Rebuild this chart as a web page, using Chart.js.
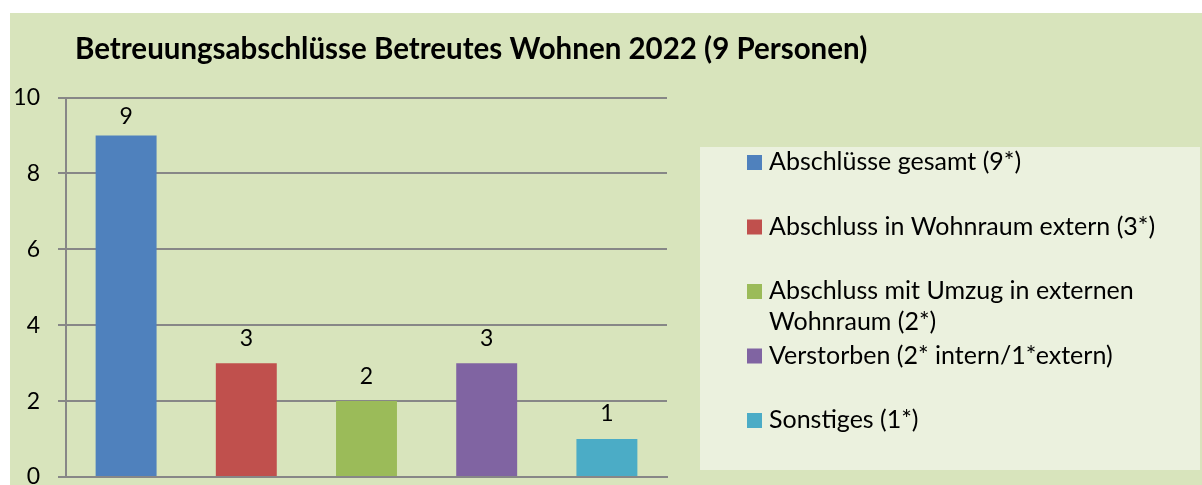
<!DOCTYPE html>
<html><head><meta charset="utf-8">
<script src="https://cdn.jsdelivr.net/npm/chart.js@4"></script>
<style>
html,body{margin:0;padding:0;background:#fff;width:1202px;height:485px;overflow:hidden}
#wrap{position:absolute;left:10px;top:13px;width:1192px;height:472px;background:#d8e4bc}
canvas{display:block}
</style></head><body><div id="wrap"><canvas id="c" width="1192" height="472"></canvas></div>
<script>
const chartTitle = "Betreuungsabschlüsse Betreutes Wohnen 2022 (9 Personen)";
const categories = [
  ["Abschlüsse gesamt (9*)"],
  ["Abschluss in Wohnraum extern (3*)"],
  ["Abschluss mit Umzug in externen", "Wohnraum (2*)"],
  ["Verstorben (2* intern/1*extern)"],
  ["Sonstiges (1*)"]
];
const values = [9, 3, 2, 3, 1];
const colors = ["#4f81bd", "#c0504d", "#9bbb59", "#8064a2", "#4bacc6"];
const yTicks = [0, 2, 4, 6, 8, 10];

const FONT = "Lato, 'Open Sans', sans-serif";

const decor = {
  id: 'decor',
  afterDraw(chart) {
    const ctx = chart.ctx;
    ctx.save();
    // title
    ctx.fillStyle = '#000';
    ctx.font = "bold 29.5px " + FONT;
    ctx.textAlign = 'left';
    ctx.textBaseline = 'middle';
    ctx.fillText(chartTitle, 65, 36);
    // legend box
    ctx.fillStyle = '#ebf1de';
    ctx.fillRect(690, 134, 500, 323);
    ctx.font = "25px " + FONT;
    const y0 = 149, step = 64.5, lh = 31;
    categories.forEach((lines, i) => {
      const y = y0 + step * i;
      ctx.fillStyle = colors[i];
      ctx.fillRect(737, y - 7, 15, 15);
      ctx.fillStyle = '#000';
      lines.forEach((t, j) => ctx.fillText(t, 759, y + j * lh));
    });
    // data labels
    const meta = chart.getDatasetMeta(0);
    ctx.textAlign = 'center';
    ctx.font = "23px " + FONT;
    meta.data.forEach((bar, i) => {
      const ly = Math.max(bar.y - 25, chart.chartArea.top + 19);
      ctx.fillText(String(values[i]), bar.x, ly);
    });
    ctx.restore();
  }
};

new Chart(document.getElementById('c'), {
  type: 'bar',
  data: {
    labels: categories.map(c => c.join(' ')),
    datasets: [{
      data: values,
      backgroundColor: colors,
      borderWidth: 0,
      categoryPercentage: 1,
      barPercentage: 0.507
    }]
  },
  options: {
    responsive: false,
    animation: false,
    layout: { padding: { left: 0, top: 84.5, right: 535, bottom: 8 } },
    plugins: { legend: { display: false }, title: { display: false }, tooltip: { enabled: false } },
    scales: {
      x: {
        ticks: { display: false },
        grid: { display: false, drawTicks: false },
        border: { display: true, color: '#878787', width: 2 },
        afterFit(s) { s.height = 0; s.paddingLeft = 0; s.paddingRight = 0; s.paddingTop = 0; s.paddingBottom = 0; }
      },
      y: {
        min: 0, max: 10,
        afterBuildTicks(s) { s.ticks = yTicks.map(v => ({ value: v })); },
        ticks: { font: { family: FONT, size: 23 }, color: '#000', padding: 18 },
        grid: { color: '#878787', lineWidth: 2, tickLength: 8, drawTicks: true },
        border: { display: true, color: '#878787', width: 2 },
        afterFit(s) { s.width = 56; s.paddingTop = 0; s.paddingBottom = 0; }
      }
    }
  },
  plugins: [decor]
});
</script></body></html>
